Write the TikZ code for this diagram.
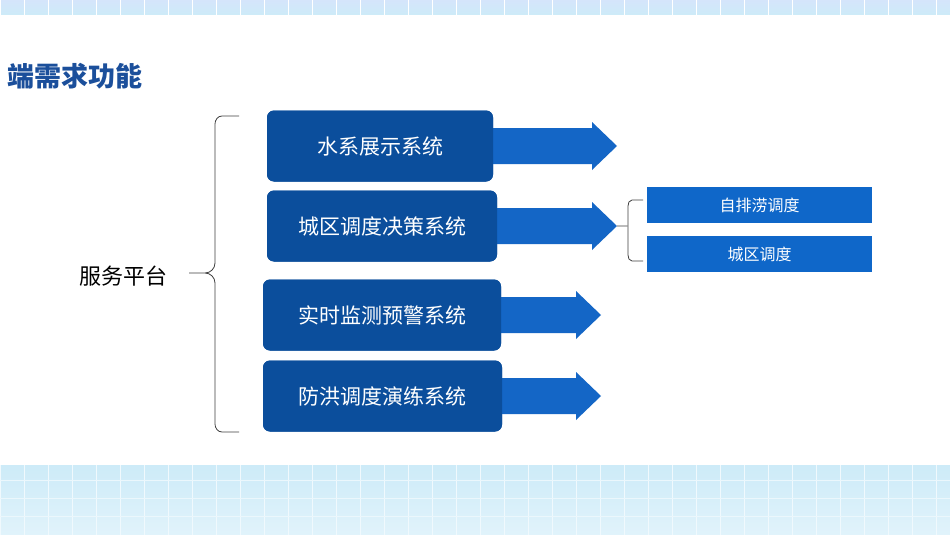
\documentclass[tikz,border=0pt]{standalone}
\usepackage{fontspec}
\setmainfont{Noto Sans CJK SC}
\newfontfamily\cjkb[BoldFont={Noto Sans CJK SC}]{Noto Sans CJK SC}
\usetikzlibrary{shapes.arrows}
\definecolor{dkb}{HTML}{0B4E9C}
\definecolor{arb}{HTML}{1466C6}
\definecolor{sub}{HTML}{0F67C9}
\definecolor{ttl}{HTML}{1B4F9B}
\definecolor{band}{HTML}{CDEBF8}
\tikzset{
 sysbox/.style={draw=none,rounded corners=7pt,fill=dkb,text=white,minimum height=71pt,font=\fontsize{21}{24}\selectfont,drop shadow/.try},
 subbox/.style={fill=sub,text=white,minimum width=225pt,minimum height=36pt,font=\fontsize{16}{19}\selectfont},
 bigarr/.style={fill=arb},
 brk/.style={draw=black!75,line width=0.8pt}
}
\begin{document}
\begin{tikzpicture}[x=1pt,y=-1pt]
\useasboundingbox (0,0) rectangle (950,535);
\fill[white] (0,0) rectangle (950,535);
% bands
\shade[top color=band!90!blue!60,bottom color=band] (0,0) rectangle (950,15);
\shade[top color=band,bottom color=band!60] (0,465) rectangle (950,535);
\foreach \x in {0,24,...,950}{\draw[white,line width=0.8pt] (\x,0)--(\x,15); \draw[white!70!band,line width=0.8pt] (\x,465)--(\x,535);}
\foreach \y in {480,498,516}{\draw[white!60!band,line width=0.6pt] (0,\y)--(950,\y);}
\node[anchor=west,text=ttl,font=\fontsize{27}{30}\selectfont\bfseries] (title) at (4,76) {端需求功能};
% systems
\node[sysbox,minimum width=226pt] (s1) at (380,146) {水系展示系统};
\node[sysbox,minimum width=230pt] (s2) at (382,226) {城区调度决策系统};
\node[sysbox,minimum width=238pt] (s3) at (382,315) {实时监测预警系统};
\node[sysbox,minimum width=239pt] (s4) at (382.5,396) {防洪调度演练系统};
% arrows
\foreach \n/\cy/\tip in {1/146/617,2/226/617,3/315/601,4/396/601}{
 \fill[bigarr] (490,\cy-18) -- (\tip-25,\cy-18) -- (\tip-25,\cy-24) -- (\tip,\cy) -- (\tip-25,\cy+24) -- (\tip-25,\cy+18) -- (490,\cy+18) -- cycle;
 \coordinate (t\n) at (\tip,\cy);
}
\node[sysbox,minimum width=226pt] at (s1) {水系展示系统};
\node[sysbox,minimum width=230pt] at (s2) {城区调度决策系统};
\node[sysbox,minimum width=238pt] at (s3) {实时监测预警系统};
\node[sysbox,minimum width=239pt] at (s4) {防洪调度演练系统};
% sub boxes
\node[subbox] (a) at (759.5,205) {自排涝调度};
\node[subbox] (b) at (759.5,254) {城区调度};
\draw[brk] (t2) -- (627,226) (643,200) -- (632,200) to[out=180,in=90] (628,206) -- (628,255) to[out=-90,in=180] (632,261) -- (643,261);
% big brace
\node[font=\fontsize{22}{26}\selectfont] (svc) at (123,276) {服务平台};
\draw[brk] (239,116) -- (222,116) to[out=180,in=90] (215,124) -- (215,263) to[out=-90,in=0] (205,273) -- (189,273) (205,273) to[out=0,in=90] (215,283) -- (215,424) to[out=-90,in=180] (222,432) -- (239,432);
\end{tikzpicture}
\end{document}
